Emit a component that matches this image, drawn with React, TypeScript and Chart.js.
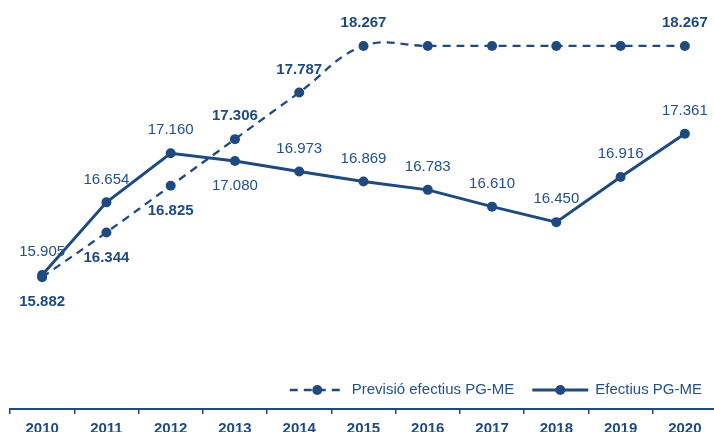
import React, { useEffect, useRef } from 'react';
import { Chart, registerables } from 'chart.js';

Chart.register(...registerables);

const BLUE = '#1f4a80';
const TEXT_BLUE = '#23508a';
const FONT = "'Liberation Sans', Arial, sans-serif";

const years = ['2010', '2011', '2012', '2013', '2014', '2015', '2016', '2017', '2018', '2019', '2020'];
const efectius = [15.905, 16.654, 17.16, 17.08, 16.973, 16.869, 16.783, 16.61, 16.45, 16.916, 17.361];
const previsio = [15.882, 16.344, 16.825, 17.306, 17.787, 18.267, 18.267, 18.267, 18.267, 18.267, 18.267];
// 'a' = label above the point, 'b' = below, '' = no label
const efectiusLabelPos = ['a', 'a', 'a', 'b', 'a', 'a', 'a', 'a', 'a', 'a', 'a'];
const previsioLabelPos = ['b', 'b', 'b', 'a', 'a', 'a', '', '', '', '', 'a'];
const legendLabels = ['Previsió efectius PG-ME', 'Efectius PG-ME'];

const valueLabelsPlugin = {
  id: 'valueLabels',
  afterDatasetsDraw(chart: any) {
    const ctx = chart.ctx;
    const cfg = [
      { pos: efectiusLabelPos, bold: false },
      { pos: previsioLabelPos, bold: true },
    ];
    chart.data.datasets.forEach((ds: any, di: number) => {
      const meta = chart.getDatasetMeta(di);
      meta.data.forEach((pt: any, i: number) => {
        const p = cfg[di].pos[i];
        if (!p) return;
        ctx.save();
        ctx.font = `${cfg[di].bold ? 'bold ' : ''}15px ${FONT}`;
        ctx.fillStyle = cfg[di].bold ? BLUE : TEXT_BLUE;
        ctx.textAlign = 'center';
        ctx.textBaseline = 'middle';
        ctx.fillText((ds.data[i] as number).toFixed(3), pt.x, pt.y + (p === 'a' ? -23 : 25));
        ctx.restore();
      });
    });
  },
};

const legendPlugin = {
  id: 'customLegend',
  afterDraw(chart: any) {
    const ctx = chart.ctx;
    const area = chart.chartArea;
    const y = area.bottom - 19;
    ctx.save();
    ctx.font = `15px ${FONT}`;
    ctx.textBaseline = 'middle';
    ctx.textAlign = 'left';
    const w1 = ctx.measureText(legendLabels[0]).width;
    const w2 = ctx.measureText(legendLabels[1]).width;
    const right = area.right - 15;
    // second item (solid)
    const t2 = right - w2;
    const s2end = t2 - 7;
    const s2start = s2end - 56;
    // first item (dashed)
    const t1 = s2start - 18 - w1;
    const s1end = t1 - 11;
    const s1start = s1end - 51;

    ctx.strokeStyle = BLUE;
    ctx.fillStyle = BLUE;
    // dashed symbol
    ctx.lineWidth = 2.3;
    ctx.setLineDash([8, 6]);
    ctx.beginPath();
    ctx.moveTo(s1start, y);
    ctx.lineTo(s1end, y);
    ctx.stroke();
    ctx.setLineDash([]);
    ctx.beginPath();
    ctx.arc((s1start + s1end) / 2 + 2, y, 5, 0, Math.PI * 2);
    ctx.fill();
    ctx.fillStyle = TEXT_BLUE;
    ctx.fillText(legendLabels[0], t1, y);
    // solid symbol
    ctx.fillStyle = BLUE;
    ctx.lineWidth = 3;
    ctx.beginPath();
    ctx.moveTo(s2start, y);
    ctx.lineTo(s2end, y);
    ctx.stroke();
    ctx.beginPath();
    ctx.arc((s2start + s2end) / 2, y, 5, 0, Math.PI * 2);
    ctx.fill();
    ctx.fillStyle = TEXT_BLUE;
    ctx.fillText(legendLabels[1], t2, y);
    ctx.restore();
  },
};

export default function App() {
  const ref = useRef<HTMLCanvasElement | null>(null);

  useEffect(() => {
    document.body.style.margin = '0';
    document.body.style.overflow = 'hidden';
    if (!ref.current) return;
    const chart = new Chart(ref.current, {
      type: 'line',
      data: {
        labels: years,
        datasets: [
          {
            label: legendLabels[1],
            data: efectius,
            borderColor: BLUE,
            backgroundColor: BLUE,
            borderWidth: 3,
            pointRadius: 5,
            pointBorderWidth: 0,
            pointBackgroundColor: BLUE,
            tension: 0,
          },
          {
            label: legendLabels[0],
            data: previsio,
            borderColor: BLUE,
            backgroundColor: BLUE,
            borderWidth: 2.3,
            borderDash: [8, 6],
            pointRadius: 5,
            pointBorderWidth: 0,
            pointBackgroundColor: BLUE,
            tension: 0.4,
          },
        ],
      },
      options: {
        responsive: false,
        animation: false,
        events: [],
        layout: { autoPadding: false, padding: { left: 10, right: 7, top: 0, bottom: 0 } },
        plugins: {
          legend: { display: false },
          tooltip: { enabled: false },
        },
        scales: {
          x: {
            offset: true,
            grid: {
              display: true,
              drawOnChartArea: false,
              drawTicks: true,
              tickLength: 5,
              color: BLUE,
              lineWidth: 1.5,
              offset: true,
            },
            border: { display: true, color: BLUE, width: 2 },
            ticks: {
              color: BLUE,
              font: { size: 15, weight: 'bold', family: FONT },
              padding: 6,
              maxRotation: 0,
              autoSkip: false,
            },
          },
          y: {
            display: false,
            min: 14.523,
            max: 18.741,
          },
        },
      },
      plugins: [valueLabelsPlugin, legendPlugin],
    } as any);
    return () => chart.destroy();
  }, []);

  return (
    <div style={{ width: 714, height: 432, overflow: 'hidden', position: 'relative' }}>
      <canvas ref={ref} width={724} height={444} style={{ display: 'block' }} />
    </div>
  );
}
